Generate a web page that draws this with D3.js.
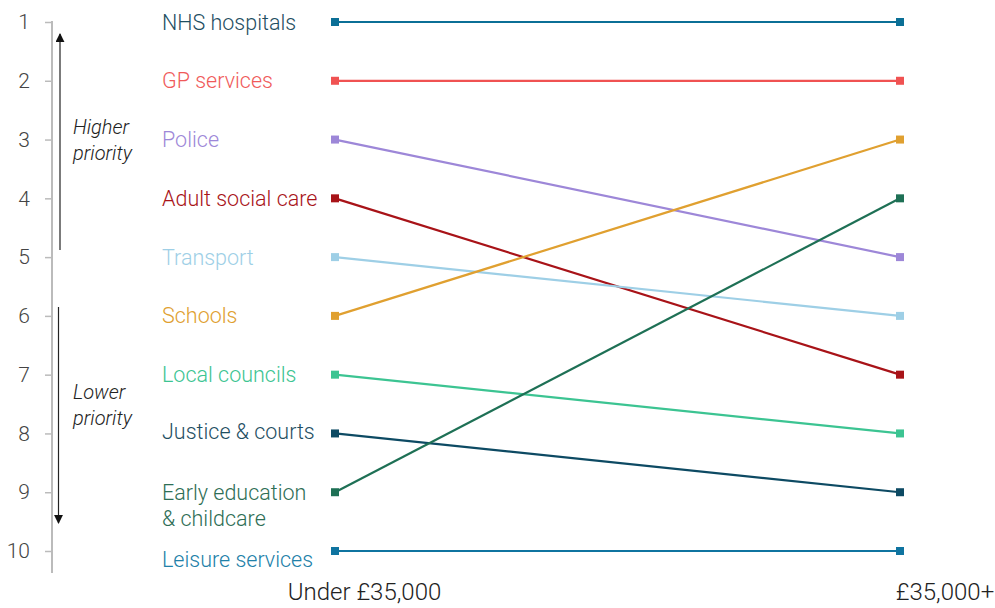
<!DOCTYPE html>
<html>
<head>
<meta charset="utf-8">
<script src="https://cdn.jsdelivr.net/npm/d3@7"></script>
<style>
  html, body { margin: 0; padding: 0; background: #fff; }
  svg { display: block; font-family: Roboto, "Noto Sans", sans-serif; }
</style>
</head>
<body>
<svg id="chart" width="995" height="608"></svg>
<script>
// Public services ranked by priority, split by household income
const services = ["NHS hospitals", "GP services", "Police", "Adult social care", "Transport",
                  "Schools", "Local councils", "Justice & courts", "Early education & childcare", "Leisure services"];
const incomeGroups = ["Under £35,000", "£35,000+"];
const rankUnder35k = [1, 2, 3, 4, 5, 6, 7, 8, 9, 10];
const rankOver35k  = [1, 2, 5, 7, 6, 3, 8, 9, 4, 10];
const rankTicks = [1, 2, 3, 4, 5, 6, 7, 8, 9, 10];

const lineColours  = ["#0b6f96", "#f05252", "#9d87d8", "#a81318", "#9ecfe6",
                      "#e0a030", "#3cc492", "#0d4a63", "#1e7055", "#0f74a0"];
const labelColours = ["#1e4e62", "#f05a5a", "#9d87d8", "#a81318", "#9ecfe6",
                      "#e0a030", "#3cc492", "#1e4e62", "#2e6e55", "#2180a8"];

const svg = d3.select("#chart");

const y = d3.scaleLinear().domain([1, 10]).range([22, 551]);
const x = d3.scalePoint().domain(incomeGroups).range([335, 900]);

// Rank axis on the left
const axis = svg.append("g").attr("transform", "translate(52,0)")
  .call(d3.axisLeft(y).tickValues(rankTicks).tickFormat(d3.format("d")).tickSize(7).tickPadding(15));
axis.select(".domain").remove();
axis.selectAll(".tick line").attr("stroke", "#bbb").attr("stroke-width", 1.5);
axis.selectAll(".tick text").attr("fill", "#444").attr("font-size", 21).attr("font-weight", 300)
  .attr("font-family", "Roboto, sans-serif");
svg.append("line").attr("x1", 52).attr("x2", 52).attr("y1", y(1) - 1).attr("y2", 573)
  .attr("stroke", "#bbb").attr("stroke-width", 2);

// Direction arrows
const defs = svg.append("defs");
defs.append("marker").attr("id", "arrowhead").attr("viewBox", "0 0 10 10")
  .attr("refX", 9).attr("refY", 5).attr("markerWidth", 9).attr("markerHeight", 9)
  .attr("markerUnits", "userSpaceOnUse").attr("orient", "auto")
  .append("path").attr("d", "M0,0 L10,5 L0,10 Z").attr("fill", "#111");

svg.append("line").attr("x1", 60).attr("x2", 60).attr("y1", 250).attr("y2", 34)
  .attr("stroke", "#222").attr("stroke-width", 1.2).attr("marker-end", "url(#arrowhead)");
svg.append("line").attr("x1", 58.5).attr("x2", 58.5).attr("y1", 307).attr("y2", 523)
  .attr("stroke", "#222").attr("stroke-width", 1.2).attr("marker-end", "url(#arrowhead)");

const noteStyle = t => t.attr("font-style", "italic").attr("font-size", 20).attr("fill", "#222")
  .attr("font-family", "Roboto, sans-serif").attr("font-weight", 300);
svg.append("text").attr("x", 73).attr("y", 134).text("Higher").call(noteStyle);
svg.append("text").attr("x", 73).attr("y", 160).text("priority").call(noteStyle);
svg.append("text").attr("x", 73).attr("y", 399).text("Lower").call(noteStyle);
svg.append("text").attr("x", 73).attr("y", 425).text("priority").call(noteStyle);

// Slope lines with square end markers
const rows = services.map((s, i) => ({
  name: s, a: rankUnder35k[i], b: rankOver35k[i], colour: lineColours[i], labelColour: labelColours[i]
}));

const g = svg.append("g");
g.selectAll("line.slope").data(rows).join("line").attr("class", "slope")
  .attr("x1", x(incomeGroups[0])).attr("y1", d => y(d.a))
  .attr("x2", x(incomeGroups[1])).attr("y2", d => y(d.b))
  .attr("stroke", d => d.colour).attr("stroke-width", 2.2);

const sq = 8;
rows.forEach(d => {
  [[incomeGroups[0], d.a], [incomeGroups[1], d.b]].forEach(([grp, r]) => {
    g.append("rect").attr("x", x(grp) - sq / 2).attr("y", y(r) - sq / 2)
      .attr("width", sq).attr("height", sq).attr("fill", d.colour);
  });
});

// Service labels beside the left end; long names wrap, and the last label is nudged clear
const labels = svg.append("g").attr("font-size", 21.5).attr("font-weight", 300);
rows.forEach((d, i) => {
  const lines = d.name === "Early education & childcare" ? ["Early education", "& childcare"] : [d.name];
  const nudge = d.name === "Leisure services" ? 8 : (d.name === "Justice & courts" ? -2 : 0);
  const t = labels.append("text").attr("x", 162).attr("y", y(d.a) + 7.5 + nudge)
    .attr("fill", d.labelColour);
  lines.forEach((ln, k) => t.append("tspan").attr("x", 162).attr("dy", k === 0 ? 0 : 26).text(ln));
});

// Income group labels
svg.append("text").attr("x", 364.5).attr("y", 600).attr("text-anchor", "middle")
  .attr("font-size", 24).attr("font-weight", 300).attr("fill", "#222").text(incomeGroups[0]);
svg.append("text").attr("x", 945).attr("y", 600).attr("text-anchor", "middle")
  .attr("font-size", 24).attr("font-weight", 300).attr("fill", "#222").text(incomeGroups[1]);
</script>
</body>
</html>
